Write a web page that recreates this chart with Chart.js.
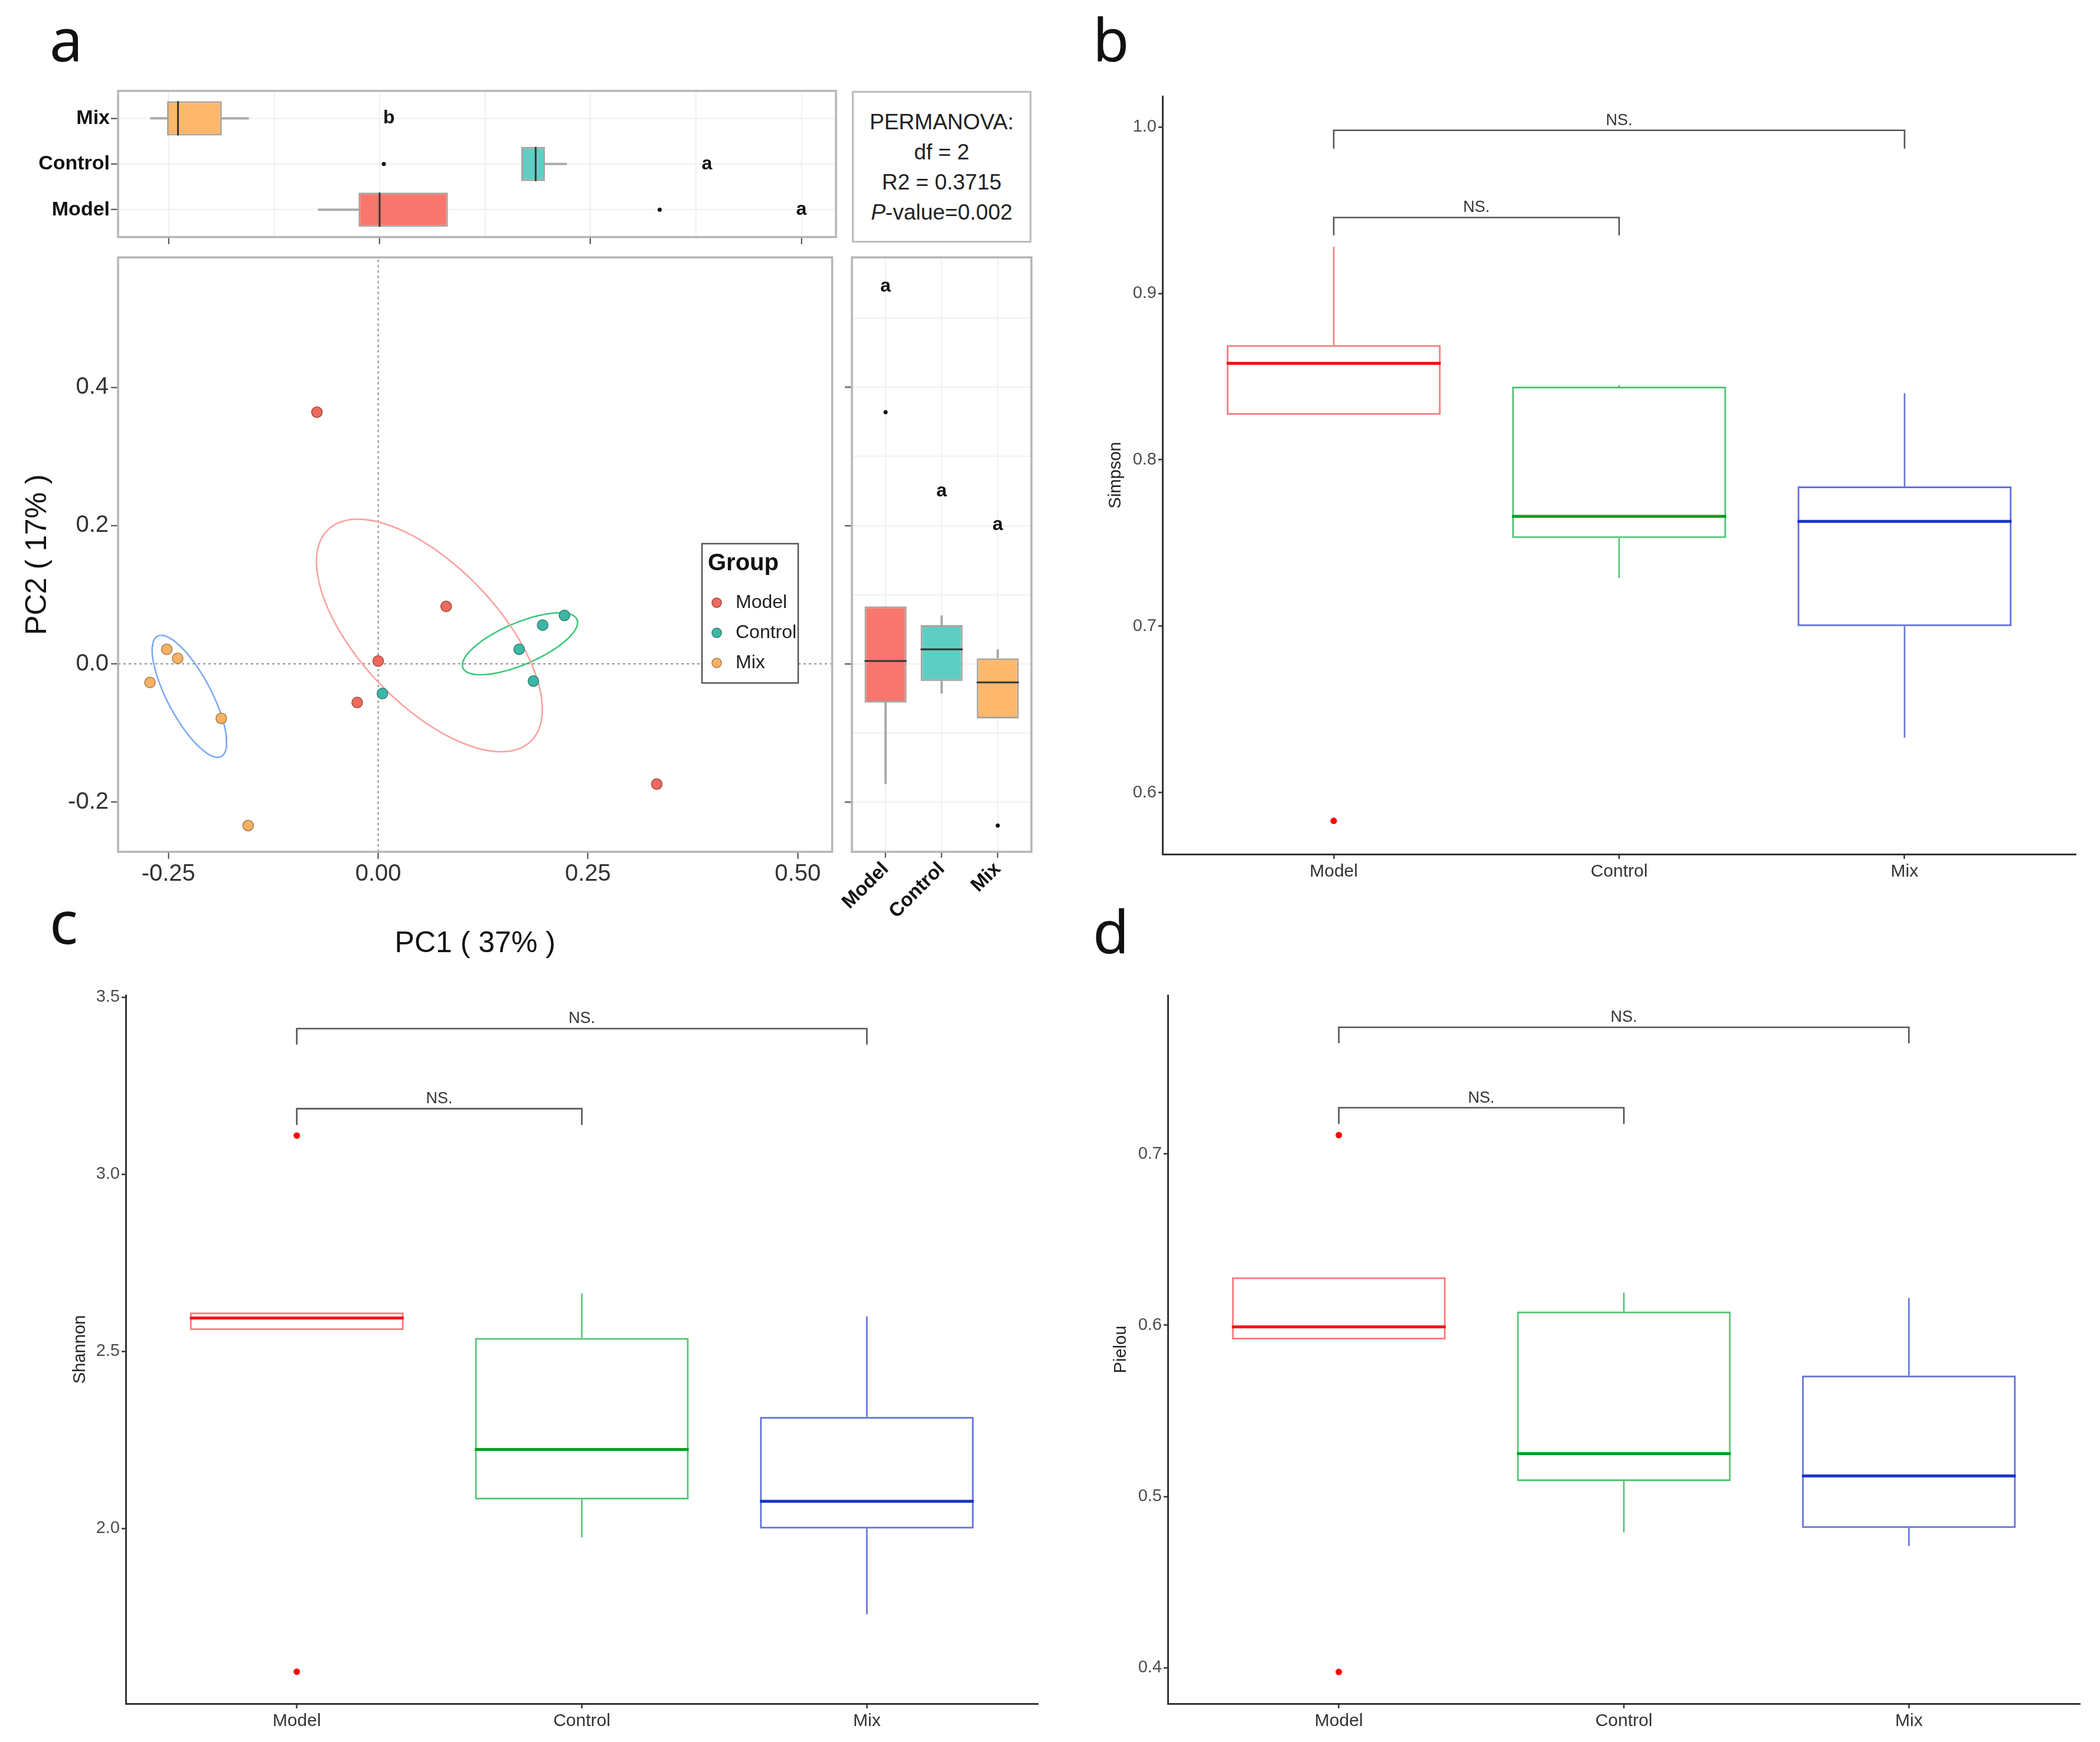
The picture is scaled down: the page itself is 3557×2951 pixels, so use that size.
<!DOCTYPE html>
<html>
<head>
<meta charset="utf-8">
<script src="https://cdn.jsdelivr.net/npm/chart.js@4.4.1/dist/chart.umd.min.js"></script>
<style>
  body { margin: 0; background: #fff; width: 3557px; height: 2951px; position: relative; overflow: hidden; }
  .letter { position: absolute; font-family: 'Noto Sans', sans-serif; font-size: 100px; line-height: 100px; color: #111; }
  #perm { position: absolute; left: 1443px; top: 154px; width: 298px; height: 227px; border: 3px solid #bbb;
          font-family: 'Liberation Sans Narrow', 'Liberation Sans', Arial, sans-serif; font-size: 37px; line-height: 51px;
          text-align: center; color: #222; padding-top: 24px; box-sizing: content-box; }
  #perm div { height: 51px; }
</style>
</head>
<body>
<div class="letter" style="left:84px;top:15px">a</div>
<div class="letter" style="left:1851px;top:15px">b</div>
<div class="letter" style="left:84px;top:1510px">c</div>
<div class="letter" style="left:1851px;top:1526px">d</div>
<div id="perm">
  <div>PERMANOVA:</div>
  <div>df = 2</div>
  <div>R2 = 0.3715</div>
  <div><i>P</i>-value=0.002</div>
</div>

<script>
const FONT = "'Liberation Sans Narrow', 'Liberation Sans', Arial, sans-serif";

const groups = ['Model', 'Control', 'Mix'];

// panel a: PCoA scores
const modelPC1 = [-0.073, 0.081, 0.000, -0.025, 0.332];
const modelPC2 = [0.364, 0.083, 0.004, -0.056, -0.174];
const controlPC1 = [0.222, 0.196, 0.168, 0.185, 0.005];
const controlPC2 = [0.070, 0.056, 0.021, -0.025, -0.043];
const mixPC1 = [-0.252, -0.239, -0.272, -0.187, -0.155];
const mixPC2 = [0.021, 0.008, -0.027, -0.079, -0.234];

// confidence ellipses: centre and two conjugate half-axes (data units)
const ellipseCenter = [[0.061, 0.041], [0.169, 0.029], [-0.225, -0.047]];
const ellipseAxisA = [[0.121, -0.153], [0.068, 0.035], [0.038, -0.087]];
const ellipseAxisB = [[-0.059, -0.070], [0.0095, -0.028], [-0.023, -0.015]];

const pc1Ticks = [-0.25, 0, 0.25, 0.5];
const pc1Grid = [-0.25, -0.125, 0, 0.125, 0.25, 0.375, 0.5];
const pc2Ticks = [-0.2, 0, 0.2, 0.4];
const pc2Grid = [-0.2, -0.1, 0, 0.1, 0.2, 0.3, 0.4, 0.5];
const pc1Letters = ['a', 'a', 'b'];
const pc1LetterX = [0.500, 0.388, 0.011];
const pc2Letters = ['a', 'a', 'a'];
const pc2LetterY = [0.546, 0.250, 0.201];

// panel b: Simpson
const simpsonTicks = [0.6, 0.7, 0.8, 0.9, 1.0];
const simpsonLow = [0.827, 0.729, 0.633];
const simpsonQ1 = [0.827, 0.753, 0.700];
const simpsonMedian = [0.858, 0.766, 0.763];
const simpsonQ3 = [0.869, 0.844, 0.784];
const simpsonHigh = [0.928, 0.845, 0.840];
const simpsonOutliers = [[0.583], [], []];
const simpsonBracketY = [0.998, 0.9456];
const simpsonBracketEnd = [0.987, 0.935];

// panel c: Shannon
const shannonTicks = [2.0, 2.5, 3.0, 3.5];
const shannonLow = [2.560, 1.975, 1.758];
const shannonQ1 = [2.560, 2.082, 2.000];
const shannonMedian = [2.594, 2.223, 2.077];
const shannonQ3 = [2.610, 2.538, 2.315];
const shannonHigh = [2.610, 2.664, 2.599];
const shannonOutliers = [[3.109, 1.596], [], []];
const shannonBracketY = [3.411, 3.185];
const shannonBracketEnd = [3.366, 3.139];

// panel d: Pielou
const pielouTicks = [0.4, 0.5, 0.6, 0.7];
const pielouLow = [0.5916, 0.479, 0.471];
const pielouQ1 = [0.5916, 0.509, 0.4816];
const pielouMedian = [0.599, 0.525, 0.512];
const pielouQ3 = [0.628, 0.608, 0.5706];
const pielouHigh = [0.628, 0.619, 0.616];
const pielouOutliers = [[0.711, 0.3975], [], []];
const pielouBracketY = [0.774, 0.727];
const pielouBracketEnd = [0.7647, 0.7175];

const bracketPairs = [[1, 3], [1, 2]];
const bracketText = ['NS.', 'NS.'];

// colours
const fillA = ['#F8766D', '#5ECEC4', '#FDB86C'];
const pointFill = ['#EE6A5C', '#3DB8A6', '#F7B164'];
const pointEdge = ['#9A4A40', '#2F7D72', '#A87A45'];
const ellipseColor = ['#F9A3A0', '#3CC77A', '#7EAAF2'];
const lineBCD = ['rgba(250,40,40,0.62)', 'rgba(0,170,50,0.68)', 'rgba(40,60,200,0.72)'];
const medianBCD = ['#EE1515', '#00A024', '#1A35C8'];

const xMin = -0.310, xMax = 0.541, yMin = -0.272, yMax = 0.588;

Chart.defaults.font.family = FONT;
Chart.defaults.animation = false;
Chart.defaults.plugins.legend.display = false;
Chart.defaults.plugins.tooltip.enabled = false;

function quantile(arr, p) {
  const s = [...arr].sort((a, b) => a - b);
  const h = (s.length - 1) * p, lo = Math.floor(h);
  return s[lo] + (s[Math.min(lo + 1, s.length - 1)] - s[lo]) * (h - lo);
}
function boxStats(arr) {
  const q1 = quantile(arr, 0.25), med = quantile(arr, 0.5), q3 = quantile(arr, 0.75);
  const f = 1.5 * (q3 - q1);
  const inside = arr.filter(v => v >= q1 - f && v <= q3 + f);
  return { q1, med, q3, low: Math.min(...inside), high: Math.max(...inside),
           out: arr.filter(v => v < q1 - f || v > q3 + f) };
}

const extras = {};

function place(id, L, T, R, B, m) {
  const c = document.createElement('canvas');
  const w = R - L + m[0] + m[2], h = B - T + m[1] + m[3];
  c.id = id; c.width = w; c.height = h;
  c.style.cssText = `position:absolute;left:${L - m[0]}px;top:${T - m[1]}px;width:${w}px;height:${h}px`;
  document.body.appendChild(c);
  return c;
}

function seg(ctx, horiz, c, v1, v2) {
  ctx.beginPath();
  if (horiz) { ctx.moveTo(v1, c); ctx.lineTo(v2, c); } else { ctx.moveTo(c, v1); ctx.lineTo(c, v2); }
  ctx.stroke();
}

const extrasPlugin = {
  id: 'extras',
  beforeDatasetsDraw(chart) {
    const e = extras[chart.canvas.id];
    if (!e || !e.box) return;
    const b = e.box, ctx = chart.ctx;
    const iS = b.horiz ? chart.scales.y : chart.scales.x;
    const vS = b.horiz ? chart.scales.x : chart.scales.y;
    ctx.save();
    ctx.lineWidth = b.whiskerWidth;
    b.low.forEach((lo, i) => {
      const c = iS.getPixelForValue(i + 1);
      ctx.strokeStyle = b.whiskerColor[i];
      seg(ctx, b.horiz, c, vS.getPixelForValue(lo), vS.getPixelForValue(b.q1[i]));
      seg(ctx, b.horiz, c, vS.getPixelForValue(b.q3[i]), vS.getPixelForValue(b.high[i]));
    });
    ctx.restore();
  },
  afterDatasetsDraw(chart) {
    const e = extras[chart.canvas.id];
    if (!e) return;
    const ctx = chart.ctx, xs = chart.scales.x, ys = chart.scales.y;
    if (e.box) {
      const b = e.box;
      const iS = b.horiz ? ys : xs, vS = b.horiz ? xs : ys;
      const half = Math.abs(iS.getPixelForValue(1 + b.width / 2) - iS.getPixelForValue(1));
      ctx.save();
      ctx.lineWidth = b.medianWidth;
      b.med.forEach((m, i) => {
        const c = iS.getPixelForValue(i + 1), v = vS.getPixelForValue(m);
        ctx.strokeStyle = b.medianColor[i];
        ctx.beginPath();
        if (b.horiz) { ctx.moveTo(v, c - half); ctx.lineTo(v, c + half); }
        else { ctx.moveTo(c - half, v); ctx.lineTo(c + half, v); }
        ctx.stroke();
      });
      ctx.restore();
    }
    if (e.notes) {
      ctx.save();
      ctx.fillStyle = '#111';
      ctx.textAlign = 'center';
      ctx.textBaseline = 'middle';
      e.notes.forEach(t => {
        ctx.font = t.font;
        ctx.fillText(t.text, xs.getPixelForValue(t.x), ys.getPixelForValue(t.y));
      });
      ctx.restore();
    }
    if (e.brackets) {
      const br = e.brackets;
      ctx.save();
      ctx.strokeStyle = '#555'; ctx.lineWidth = 2.6; ctx.fillStyle = '#333';
      ctx.font = `27px ${FONT}`; ctx.textAlign = 'center'; ctx.textBaseline = 'alphabetic';
      bracketPairs.forEach((p, i) => {
        const x1 = xs.getPixelForValue(p[0]), x2 = xs.getPixelForValue(p[1]);
        const y = ys.getPixelForValue(br.y[i]), end = ys.getPixelForValue(br.end[i]);
        ctx.beginPath(); ctx.moveTo(x1, end); ctx.lineTo(x1, y); ctx.lineTo(x2, y); ctx.lineTo(x2, end); ctx.stroke();
        ctx.fillText(bracketText[i], (x1 + x2) / 2, y - 9);
      });
      ctx.restore();
    }
    if (e.legend) {
      const g = e.legend;
      ctx.save();
      ctx.fillStyle = '#fff'; ctx.strokeStyle = '#555'; ctx.lineWidth = 2.5;
      ctx.fillRect(g.x, g.y, g.w, g.h); ctx.strokeRect(g.x, g.y, g.w, g.h);
      ctx.fillStyle = '#111'; ctx.textBaseline = 'middle'; ctx.textAlign = 'left';
      ctx.font = `bold 40px ${FONT}`;
      ctx.fillText('Group', g.x + 10, g.y + 34);
      ctx.font = `32px ${FONT}`;
      groups.forEach((name, i) => {
        const cy = g.y + 100 + i * 51;
        ctx.beginPath(); ctx.arc(g.x + 25, cy, 8, 0, Math.PI * 2);
        ctx.fillStyle = pointFill[i]; ctx.fill();
        ctx.strokeStyle = pointEdge[i]; ctx.lineWidth = 1.5; ctx.stroke();
        ctx.fillStyle = '#222';
        ctx.fillText(name, g.x + 57, cy);
      });
      ctx.restore();
    }
    if (e.frame) {
      const a = chart.chartArea;
      ctx.save(); ctx.strokeStyle = e.frame; ctx.lineWidth = 3.5;
      ctx.strokeRect(a.left, a.top, a.right - a.left, a.bottom - a.top);
      ctx.restore();
    }
  }
};
Chart.register(extrasPlugin);

const isMajor = (v, step) => Math.abs(v / step - Math.round(v / step)) < 1e-6;
const pts = (xs, ys) => xs.map((x, i) => ({ x, y: ys[i] }));

function ellipsePoints(i) {
  const out = [];
  for (let k = 0; k <= 90; k++) {
    const t = k / 90 * Math.PI * 2;
    out.push({ x: ellipseCenter[i][0] + Math.cos(t) * ellipseAxisA[i][0] + Math.sin(t) * ellipseAxisB[i][0],
               y: ellipseCenter[i][1] + Math.cos(t) * ellipseAxisA[i][1] + Math.sin(t) * ellipseAxisB[i][1] });
  }
  return out;
}

const pc1 = [modelPC1, controlPC1, mixPC1].map(boxStats);
const pc2 = [modelPC2, controlPC2, mixPC2].map(boxStats);

// ---------- panel a: top marginal box plot (PC1) ----------
{
  const m = [190, 30, 4, 16];
  const cv = place('topBox', 200, 154, 1416, 408, m);
  extras.topBox = {
    frame: '#b5b5b5',
    box: { horiz: true, width: 0.75, low: pc1.map(s => s.low), q1: pc1.map(s => s.q1), q3: pc1.map(s => s.q3),
           high: pc1.map(s => s.high), med: pc1.map(s => s.med), whiskerColor: ['#aaa', '#aaa', '#aaa'],
           whiskerWidth: 4, medianColor: ['#333', '#333', '#333'], medianWidth: 3 },
    notes: pc1Letters.map((t, i) => ({ text: t, x: pc1LetterX[i], y: i + 1, font: `bold 32px ${FONT}` }))
  };
  new Chart(cv, {
    type: 'bar',
    data: { datasets: [
      { type: 'bar', indexAxis: 'y', data: pc1.map((s, i) => ({ y: i + 1, x: [s.q1, s.q3] })),
        backgroundColor: fillA, borderColor: 'rgba(70,50,40,0.45)', borderWidth: 3, borderSkipped: false,
        barPercentage: 0.75, categoryPercentage: 1 },
      { type: 'scatter', data: pc1.flatMap((s, i) => s.out.map(v => ({ x: v, y: i + 1 }))),
        pointRadius: 3.5, backgroundColor: '#111', borderWidth: 0 }
    ] },
    options: {
      responsive: false, devicePixelRatio: 1, indexAxis: 'y',
      layout: { padding: { left: 0, top: m[1], right: m[2], bottom: 0 } },
      scales: {
        x: { type: 'linear', min: xMin, max: xMax, offset: false,
             afterBuildTicks: s => { s.ticks = pc1Grid.map(v => ({ value: v })); },
             ticks: { callback: () => '' },
             grid: { offset: false, color: '#ececec', lineWidth: 1.5, tickLength: 12, tickWidth: 2,
                     tickColor: c => isMajor(c.tick.value, 0.25) ? '#444' : 'rgba(0,0,0,0)' },
             border: { display: false },
             afterFit: s => { s.height = m[3]; } },
        y: { type: 'linear', min: 0.4, max: 3.6, offset: false,
             afterBuildTicks: s => { s.ticks = [1, 2, 3].map(v => ({ value: v })); },
             ticks: { callback: v => groups[v - 1], font: { size: 34, weight: 'bold' }, color: '#111', padding: 2 },
             grid: { offset: false, color: '#ececec', lineWidth: 1.5, tickLength: 12, tickWidth: 2, tickColor: '#444' },
             border: { display: false },
             afterFit: s => { s.width = m[0]; } }
      }
    }
  });
}

// ---------- panel a: PCoA scatter ----------
{
  const m = [200, 40, 4, 200];
  const cv = place('scatter', 200, 436, 1416, 1443, m);
  extras.scatter = { frame: '#b5b5b5', legend: { x: 1189, y: 525, w: 163, h: 236 } };
  const pointSets = [[modelPC1, modelPC2], [controlPC1, controlPC2], [mixPC1, mixPC2]].map((p, i) => ({
    type: 'scatter', label: groups[i], data: pts(p[0], p[1]), backgroundColor: pointFill[i],
    borderColor: pointEdge[i], borderWidth: 1.5, pointRadius: 9, order: 0 }));
  const ellipseSets = groups.map((g, i) => ({
    type: 'line', data: ellipsePoints(i), borderColor: ellipseColor[i], borderWidth: 2.6,
    pointRadius: 0, fill: false, tension: 0, order: 1 }));
  const zeroSets = [
    { type: 'line', data: [{ x: 0, y: yMin }, { x: 0, y: yMax }], borderColor: '#888', borderWidth: 2,
      borderDash: [4, 5], pointRadius: 0, order: 2 },
    { type: 'line', data: [{ x: xMin, y: 0 }, { x: xMax, y: 0 }], borderColor: '#888', borderWidth: 2,
      borderDash: [4, 5], pointRadius: 0, order: 2 }
  ];
  new Chart(cv, {
    type: 'scatter',
    data: { datasets: [...pointSets, ...ellipseSets, ...zeroSets] },
    options: {
      responsive: false, devicePixelRatio: 1,
      layout: { padding: { left: 0, top: m[1], right: m[2], bottom: 0 } },
      scales: {
        x: { type: 'linear', min: xMin, max: xMax,
             afterBuildTicks: s => { s.ticks = pc1Ticks.map(v => ({ value: v })); },
             ticks: { callback: v => v.toFixed(2), font: { size: 40 }, color: '#333', padding: 2, maxRotation: 0 },
             grid: { drawOnChartArea: false, tickLength: 12, tickWidth: 2, tickColor: '#444' },
             border: { display: false },
             title: { display: true, text: 'PC1 ( 37% )', font: { size: 50 }, color: '#111', padding: { top: 0, bottom: 14 } },
             afterFit: s => { s.height = m[3]; } },
        y: { type: 'linear', min: yMin, max: yMax,
             afterBuildTicks: s => { s.ticks = pc2Ticks.map(v => ({ value: v })); },
             ticks: { callback: v => v.toFixed(1), font: { size: 40 }, color: '#333', padding: 4 },
             grid: { drawOnChartArea: false, tickLength: 12, tickWidth: 2, tickColor: '#444' },
             border: { display: false },
             title: { display: true, text: 'PC2 ( 17% )', font: { size: 50 }, color: '#111', padding: { top: 34, bottom: 0 } },
             afterFit: s => { s.width = m[0]; } }
      }
    }
  });
}

// ---------- panel a: right marginal box plot (PC2) ----------
{
  const m = [100, 40, 10, 160];
  const cv = place('rightBox', 1443, 436, 1747, 1443, m);
  extras.rightBox = {
    frame: '#b5b5b5',
    box: { horiz: false, width: 0.75, low: pc2.map(s => s.low), q1: pc2.map(s => s.q1), q3: pc2.map(s => s.q3),
           high: pc2.map(s => s.high), med: pc2.map(s => s.med), whiskerColor: ['#aaa', '#aaa', '#aaa'],
           whiskerWidth: 4, medianColor: ['#333', '#333', '#333'], medianWidth: 3 },
    notes: pc2Letters.map((t, i) => ({ text: t, x: i + 1, y: pc2LetterY[i], font: `bold 32px ${FONT}` }))
  };
  new Chart(cv, {
    type: 'bar',
    data: { datasets: [
      { type: 'bar', data: pc2.map((s, i) => ({ x: i + 1, y: [s.q1, s.q3] })),
        backgroundColor: fillA, borderColor: 'rgba(70,50,40,0.45)', borderWidth: 3, borderSkipped: false,
        barPercentage: 0.75, categoryPercentage: 1 },
      { type: 'scatter', data: pc2.flatMap((s, i) => s.out.map(v => ({ x: i + 1, y: v }))),
        pointRadius: 3.5, backgroundColor: '#111', borderWidth: 0 }
    ] },
    options: {
      responsive: false, devicePixelRatio: 1,
      layout: { padding: { left: 0, top: m[1], right: m[2], bottom: 0 } },
      scales: {
        x: { type: 'linear', min: 0.4, max: 3.6, offset: false,
             afterBuildTicks: s => { s.ticks = [1, 2, 3].map(v => ({ value: v })); },
             ticks: { callback: v => groups[v - 1], font: { size: 33, weight: 'bold' }, color: '#111',
                      minRotation: 45, maxRotation: 45, autoSkip: false, padding: 0 },
             grid: { offset: false, color: '#ececec', lineWidth: 1.5, tickLength: 10, tickWidth: 2, tickColor: '#444' },
             border: { display: false },
             afterFit: s => { s.height = m[3]; } },
        y: { type: 'linear', min: yMin, max: yMax, offset: false,
             afterBuildTicks: s => { s.ticks = pc2Grid.map(v => ({ value: v })); },
             ticks: { callback: () => '' },
             grid: { offset: false, color: '#ececec', lineWidth: 1.5, tickLength: 12, tickWidth: 2,
                     tickColor: c => isMajor(c.tick.value, 0.2) ? '#444' : 'rgba(0,0,0,0)' },
             border: { display: false },
             afterFit: s => { s.width = m[0]; } }
      }
    }
  });
}

// ---------- panels b, c, d: alpha diversity box plots ----------
function alphaChart(id, rect, m, title, titlePad, ticks, yRange, st, bracket) {
  const cv = place(id, rect[0], rect[1], rect[2], rect[3], m);
  extras[id] = {
    box: { horiz: false, width: 0.75, low: st.low, q1: st.q1, q3: st.q3, high: st.high, med: st.med,
           whiskerColor: lineBCD, whiskerWidth: 2.6, medianColor: medianBCD, medianWidth: 5 },
    brackets: bracket
  };
  new Chart(cv, {
    type: 'bar',
    data: { datasets: [
      { type: 'bar', data: groups.map((g, i) => ({ x: i + 1, y: [st.q1[i], st.q3[i]] })),
        backgroundColor: 'rgba(255,255,255,0)', borderColor: lineBCD, borderWidth: 3, borderSkipped: false,
        barPercentage: 0.75, categoryPercentage: 1 },
      { type: 'scatter', data: st.out.flatMap((o, i) => o.map(v => ({ x: i + 1, y: v }))),
        pointRadius: 5.5, backgroundColor: '#FF0000', borderWidth: 0 }
    ] },
    options: {
      responsive: false, devicePixelRatio: 1,
      layout: { padding: { left: 0, top: m[1], right: m[2], bottom: 0 } },
      scales: {
        x: { type: 'linear', min: 0.4, max: 3.6, offset: false,
             afterBuildTicks: s => { s.ticks = [1, 2, 3].map(v => ({ value: v })); },
             ticks: { callback: v => groups[v - 1], font: { size: 30 }, color: '#333', padding: 4, maxRotation: 0 },
             grid: { offset: false, drawOnChartArea: false, tickLength: 8, tickWidth: 2.5, tickColor: '#333' },
             border: { display: true, color: '#333', width: 3 },
             afterFit: s => { s.height = m[3]; } },
        y: { type: 'linear', min: yRange[0], max: yRange[1], offset: false,
             afterBuildTicks: s => { s.ticks = ticks.map(v => ({ value: v })); },
             ticks: { callback: v => v.toFixed(1), font: { size: 29 }, color: '#4d4d4d', padding: 3 },
             grid: { offset: false, drawOnChartArea: false, tickLength: 7, tickWidth: 2.5, tickColor: '#333' },
             border: { display: true, color: '#333', width: 3 },
             title: { display: true, text: title, font: { size: 29 }, color: '#222', padding: { top: titlePad, bottom: 0 } },
             afterFit: s => { s.width = m[0]; } }
      }
    }
  });
}

alphaChart('simpson', [1969, 163, 3516, 1447], [119, 30, 12, 60], 'Simpson', 23, simpsonTicks, [0.563, 1.0185],
  { low: simpsonLow, q1: simpsonQ1, med: simpsonMedian, q3: simpsonQ3, high: simpsonHigh, out: simpsonOutliers },
  { y: simpsonBracketY, end: simpsonBracketEnd });

alphaChart('shannon', [213, 1686, 1758, 2886], [113, 30, 12, 56], 'Shannon', 19, shannonTicks, [1.506, 3.505],
  { low: shannonLow, q1: shannonQ1, med: shannonMedian, q3: shannonQ3, high: shannonHigh, out: shannonOutliers },
  { y: shannonBracketY, end: shannonBracketEnd });

alphaChart('pielou', [1978, 1686, 3523, 2886], [118, 30, 12, 56], 'Pielou', 22, pielouTicks, [0.379, 0.7927],
  { low: pielouLow, q1: pielouQ1, med: pielouMedian, q3: pielouQ3, high: pielouHigh, out: pielouOutliers },
  { y: pielouBracketY, end: pielouBracketEnd });
</script>
</body>
</html>
